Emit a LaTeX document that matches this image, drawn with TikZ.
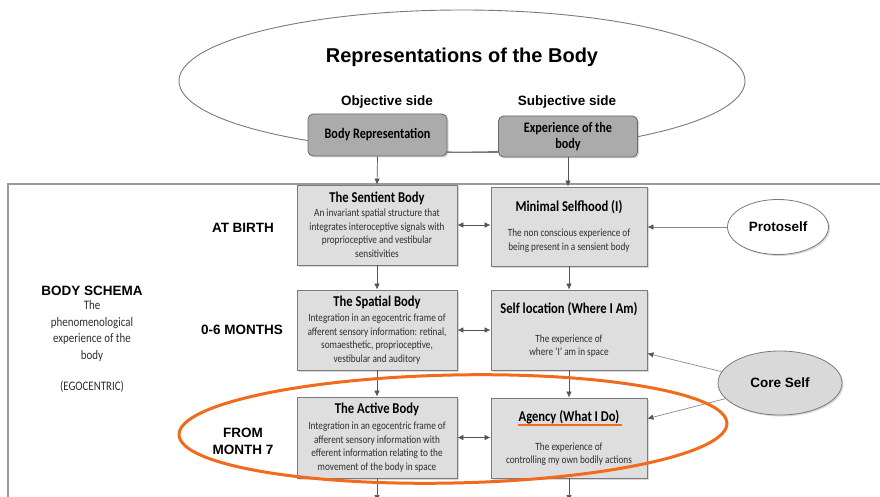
\documentclass[tikz,border=0pt]{standalone}
\usepackage{fontspec}
\setmainfont{Liberation Sans}
\newfontfamily\condfont[FakeStretch=0.84]{Carlito}
\usetikzlibrary{shapes.geometric,shadows,arrows.meta,calc}

\definecolor{boxfill}{HTML}{DEDEDE}
\definecolor{topfill}{HTML}{ABABAB}
\definecolor{corefill}{HTML}{D9D9D9}
\definecolor{edgegray}{HTML}{7A7A7A}
\definecolor{linkgray}{HTML}{555555}
\definecolor{feedgray}{HTML}{8A8A8A}
\definecolor{framegray}{HTML}{9A9A9A}
\definecolor{bodytxt}{HTML}{2E2E2E}
\definecolor{hilite}{HTML}{F26A1B}

\begin{document}
\begin{tikzpicture}[x=1pt,y=-1pt,
  shadowed/.style={drop shadow={opacity=0.3,shadow xshift=1.5pt,shadow yshift=-1.5pt}},
  stagebox/.style={draw=edgegray, fill=boxfill, line width=0.8pt, shadowed,
    minimum width=160pt, minimum height=80pt, inner sep=0pt, align=center,
    text=bodytxt, font=\condfont\fontsize{11}{13.5}\selectfont},
  sidebox/.style={draw=edgegray!85!black, fill=topfill, line width=0.8pt, shadowed,
    rounded corners=5pt, minimum width=139pt, minimum height=42pt, inner sep=0pt,
    align=center, font=\condfont\bfseries\fontsize{14.5}{16}\selectfont},
  bubble/.style={ellipse, draw=edgegray, line width=0.8pt, shadowed, inner sep=0pt,
    font=\bfseries\fontsize{13.5}{15}\selectfont},
  agelabel/.style={align=center, font=\bfseries\fontsize{13.5}{17}\selectfont},
  condtext/.style={align=center, text=bodytxt, font=\condfont\fontsize{13}{16.7}\selectfont},
  link/.style={draw=linkgray, line width=0.7pt, -{Latex[length=6pt,width=5.5pt]}},
  twoway/.style={draw=linkgray, line width=0.7pt, {Latex[length=6pt,width=5.5pt]}-{Latex[length=6pt,width=5.5pt]}},
  feed/.style={draw=feedgray, line width=0.7pt, -{Latex[length=6pt,width=5.5pt,color=linkgray]}}
]
\useasboundingbox (0,0) rectangle (880,497);

% overall heading ellipse
\node[ellipse, draw=edgegray, line width=0.9pt, minimum width=566pt, minimum height=142pt, inner sep=0pt] (rep) at (462,81) {};
\node[font=\bfseries\fontsize{20}{24}\selectfont] (title) at (462,57) {Representations of the Body};
\node[font=\bfseries\fontsize{13.5}{16}\selectfont] (objlabel) at (387,102) {Objective side};
\node[font=\bfseries\fontsize{13.5}{16}\selectfont] (subjlabel) at (567,102) {Subjective side};

% the two sides
\node[sidebox] (bodyrep) at (377.5,135) {Body Representation};
\node[sidebox, minimum height=41pt] (exper) at (568,136.5) {Experience of the\\body};
\coordinate (sidelink) at ([yshift=4pt]bodyrep.south east);
\draw[draw=edgegray, line width=0.9pt] (sidelink) -- (sidelink -| exper.west);

% body schema frame
\draw[framegray, line width=1.2pt] (8,620) -- (8,184) -- (1000,184);

% developmental stages
\node[stagebox] (sentient) at (377,225)
  {{\bfseries\color{black}\fontsize{15}{18}\selectfont The Sentient Body}\\[0.5pt]
   An invariant spatial structure that\\integrates interoceptive signals with\\proprioceptive and vestibular\\sensitivities};
\node[stagebox, minimum width=156pt, minimum height=79pt] (minimal) at (569,226.5)
  {{\bfseries\color{black}\fontsize{15}{18}\selectfont Minimal Selfhood (I)}\\[11.5pt]
   The non conscious experience of\\being present in a sensient body};

\node[stagebox] (spatial) at (377,330)
  {{\bfseries\color{black}\fontsize{15}{18}\selectfont The Spatial Body}\\[1.5pt]
   Integration in an egocentric frame of\\afferent sensory information: retinal,\\somaesthetic, proprioceptive,\\vestibular and auditory};
\node[stagebox, minimum width=156pt] (selfloc) at (569,330)
  {{\bfseries\color{black}\fontsize{15}{18}\selectfont Self location (Where I Am)}\\[15.5pt]
   The experience of\\where ‘I’ am in space};

\node[stagebox, minimum height=81pt] (active) at (377,437.5)
  {{\bfseries\color{black}\fontsize{15}{18}\selectfont The Active Body}\\[2.5pt]
   Integration in an egocentric frame of\\afferent sensory information with\\efferent information relating to the\\movement of the body in space};
\node[stagebox, minimum width=156pt] (agency) at (569,438)
  {{\bfseries\color{black}\fontsize{15}{18}\selectfont Agency (What I Do)}\\[15.5pt]
   The experience of\\controlling my own bodily actions};

% age labels and schema description
\node[agelabel] (birth) at (243,228) {AT BIRTH};
\node[agelabel] (early) at (242,330) {0-6 MONTHS};
\node[agelabel] (late) at (243,441.5) {FROM\\MONTH 7};
\node[agelabel] (schema) at (92,291) {BODY SCHEMA};
\node[condtext] (schemadesc) at (92,331) {The\\phenomenological\\experience of the\\body};
\node[condtext] (ego) at (92,387) {(EGOCENTRIC)};

% vertical flow
\draw[link] (bodyrep.south) -- (sentient.north);
\draw[link] (exper.south) -- (exper.south |- minimal.north);
\draw[link] (sentient.south) -- (spatial.north);
\draw[link] (minimal.south) -- (selfloc.north);
\draw[link] (spatial.south) -- (active.north);
\draw[link] (selfloc.south) -- (agency.north);
\coordinate (leftout) at (377,501);
\coordinate (rightout) at (569,501);
\draw[link] (active.south) -- (leftout);
\draw[link] (agency.south) -- (rightout);

% horizontal exchanges
\draw[twoway] (sentient.east) -- (sentient.east -| minimal.west);
\draw[twoway] (spatial.east) -- (spatial.east -| selfloc.west);
\draw[twoway] (active.east) -- (active.east -| agency.west);

% selves
\node[bubble, fill=white, minimum width=101pt, minimum height=55pt] (proto) at (778,227) {Protoself};
\node[bubble, fill=corefill, minimum width=124pt, minimum height=64pt] (core) at (780,383) {Core Self};
\draw[feed] (proto.west) -- (proto.west -| minimal.east);
\draw[feed] (core.169) -- ($(selfloc.north east)!0.79!(selfloc.south east)$);
\draw[feed] (core.196) -- ($(agency.north east)!0.26!(agency.south east)$);

% highlight of the latest stage
\draw[hilite, line width=3pt, rotate around={1.2:(453,429)}] (453,429) ellipse [x radius=274pt, y radius=54pt];
\draw[hilite, line width=2.5pt] (518,425) -- (622,425);
\end{tikzpicture}
\end{document}
